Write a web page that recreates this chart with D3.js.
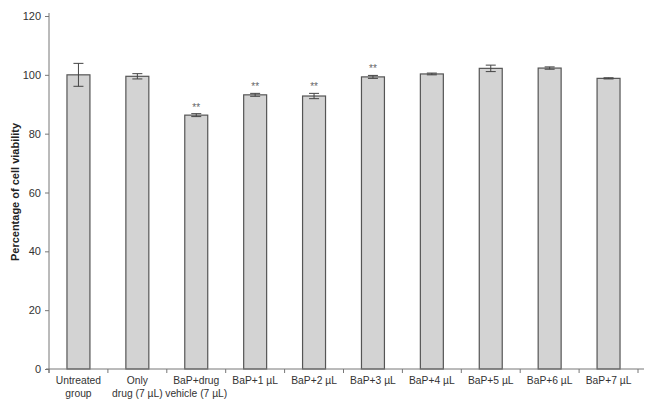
<!DOCTYPE html>
<html><head><meta charset="utf-8">
<script src="https://cdn.jsdelivr.net/npm/d3@7"></script>
<style>body{margin:0;background:#fff}svg{display:block}text{-webkit-font-smoothing:antialiased}</style>
</head><body><svg id="c" width="651" height="406"></svg>
<script>
const categories = ["Untreated|group","Only|drug (7 µL)","BaP+drug|vehicle (7 µL)","BaP+1 µL","BaP+2 µL","BaP+3 µL","BaP+4 µL","BaP+5 µL","BaP+6 µL","BaP+7 µL"];
const values = [100.0, 99.5, 86.3, 93.2, 92.8, 99.3, 100.3, 102.2, 102.3, 98.8];
const errors = [3.9, 0.9, 0.5, 0.5, 0.9, 0.5, 0.3, 1.1, 0.4, 0.2];
const significance = ["", "", "**", "**", "**", "**", "", "", "", ""];
const yTicks = [0, 20, 40, 60, 80, 100, 120];
const yLabel = "Percentage of cell viability";

const svg = d3.select("#c");
const x = d3.scaleBand().domain(categories).range([49, 638]).paddingInner(0.61).paddingOuter(0.305);
const y = d3.scaleLinear().domain([0, 120]).range([369, 16]);
const font = "Liberation Sans, Arial, sans-serif";
const axisCol = "#777";

// bars
svg.append("g").selectAll("rect").data(values).join("rect")
  .attr("x", (d,i)=>x(categories[i])).attr("width", x.bandwidth())
  .attr("y", d=>y(d)).attr("height", d=>y(0)-y(d))
  .attr("fill", "#d3d3d3").attr("stroke", "#555").attr("stroke-width", 1.2);

// error bars
const eg = svg.append("g").attr("stroke", "#444").attr("stroke-width", 1);
values.forEach((v,i)=>{
  const cx = x(categories[i]) + x.bandwidth()/2;
  const e = errors[i];
  eg.append("line").attr("x1",cx).attr("x2",cx).attr("y1",y(v+e)).attr("y2",y(v-e));
  eg.append("line").attr("x1",cx-5).attr("x2",cx+5).attr("y1",y(v+e)).attr("y2",y(v+e));
  eg.append("line").attr("x1",cx-5).attr("x2",cx+5).attr("y1",y(v-e)).attr("y2",y(v-e));
});

// significance
svg.append("g").selectAll("text").data(significance).join("text")
  .attr("x",(d,i)=>x(categories[i])+x.bandwidth()/2)
  .attr("y",(d,i)=>y(values[i]+errors[i])-3)
  .attr("text-anchor","middle").attr("font-family",font).attr("font-size",10)
  .attr("fill","#666").text(d=>d);

// y axis
const ya = svg.append("g").attr("transform","translate(49,0)")
  .call(d3.axisLeft(y).tickValues(yTicks).tickSize(4).tickPadding(4));
ya.select(".domain").attr("stroke",axisCol).attr("d","M0,13V373");
ya.selectAll(".tick line").attr("stroke",axisCol);
ya.selectAll("text").attr("font-family",font).attr("font-size",11).attr("fill","#333");

// x axis
const xa = svg.append("g").attr("transform","translate(0,369)");
xa.append("line").attr("x1",46).attr("x2",644).attr("stroke",axisCol);
const bounds = categories.map(c=>x(c)-x.step()*x.paddingInner()/2).concat([638]);
xa.selectAll(".tk").data(bounds).join("line").attr("class","tk")
  .attr("x1",d=>d).attr("x2",d=>d).attr("y1",0).attr("y2",4).attr("stroke",axisCol);
categories.forEach(c=>{
  const t = xa.append("text").attr("text-anchor","middle").attr("font-family",font)
    .attr("font-size",10.3).attr("fill","#333");
  c.split("|").forEach((line,j)=>{
    t.append("tspan").attr("x", x(c)+x.bandwidth()/2).attr("y", 15 + j*13).text(line);
  });
});

// y label
svg.append("text").attr("transform","translate(19,192) rotate(-90)")
  .attr("text-anchor","middle").attr("font-family",font).attr("font-size",11)
  .attr("font-weight","bold").attr("fill","#222").text(yLabel);
</script></body></html>
